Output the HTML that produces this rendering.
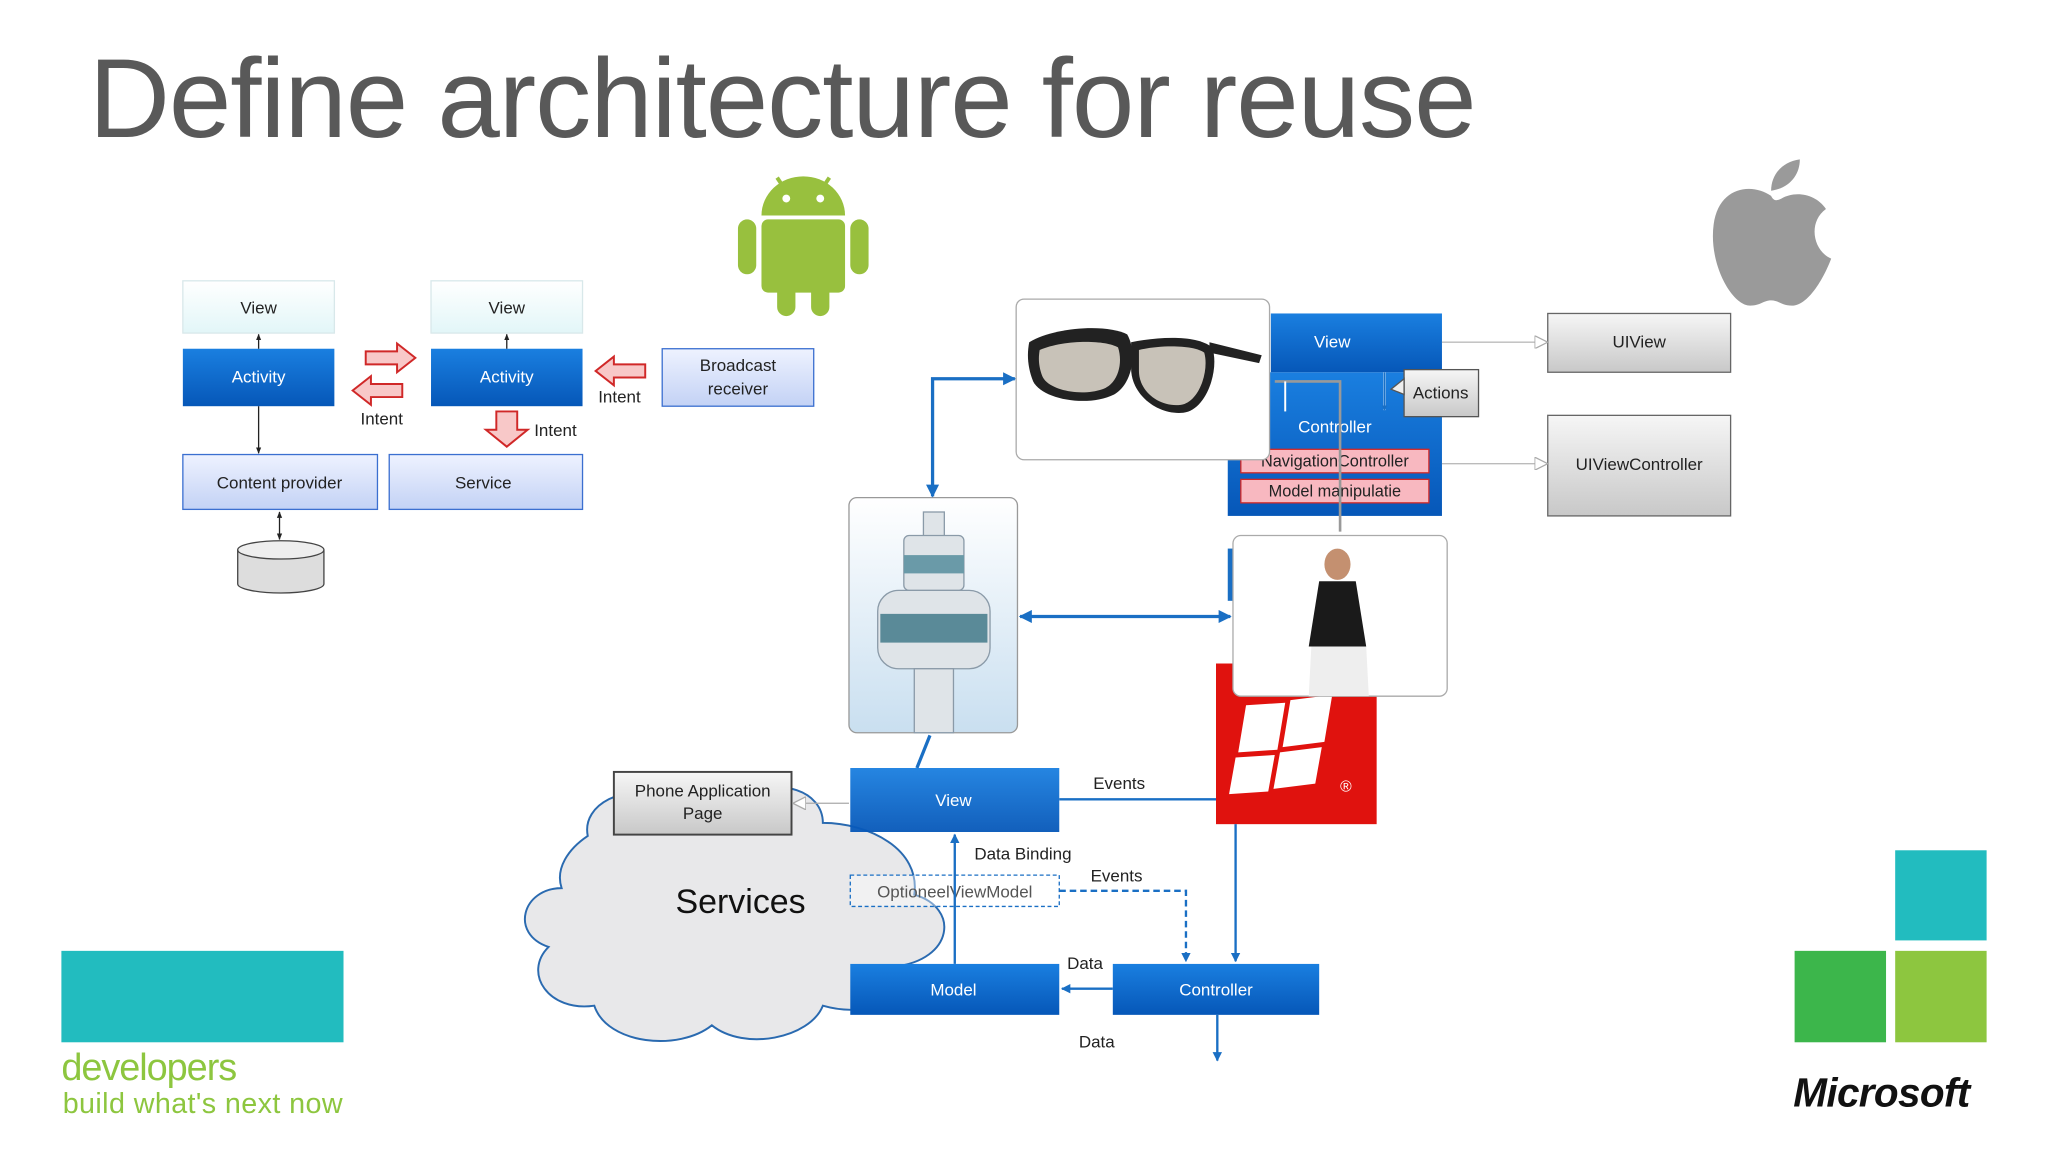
<!DOCTYPE html>
<html><head><meta charset="utf-8"><style>
html,body{margin:0;padding:0;background:#fff;}
svg{display:block;font-family:"Liberation Sans",sans-serif;}
</style></head><body>
<svg width="2048" height="1152" viewBox="0 0 1568 882" xmlns="http://www.w3.org/2000/svg">
<defs>
<linearGradient id="blue" x1="0" y1="0" x2="0" y2="1"><stop offset="0" stop-color="#1a7fe0"/><stop offset="1" stop-color="#0657b8"/></linearGradient>
<linearGradient id="lb" x1="0" y1="0" x2="0" y2="1"><stop offset="0" stop-color="#eef2ff"/><stop offset="1" stop-color="#c3d2f5"/></linearGradient>
<linearGradient id="cy" x1="0" y1="0" x2="0" y2="1"><stop offset="0" stop-color="#ffffff"/><stop offset="1" stop-color="#e2f6f8"/></linearGradient>
<linearGradient id="gr" x1="0" y1="0" x2="0" y2="1"><stop offset="0" stop-color="#f6f6f6"/><stop offset="1" stop-color="#c8c8c8"/></linearGradient>
<linearGradient id="sky" x1="0" y1="0" x2="0" y2="1"><stop offset="0" stop-color="#ffffff"/><stop offset="1" stop-color="#c9dff0"/></linearGradient>
<marker id="ab" viewBox="0 0 10 10" refX="9" refY="5" markerWidth="4" markerHeight="4" orient="auto-start-reverse"><path d="M0,0L10,5L0,10z" fill="#1a6fc4"/></marker>
<marker id="ak" viewBox="0 0 10 10" refX="9" refY="5" markerWidth="5" markerHeight="5" orient="auto-start-reverse"><path d="M0,1L10,5L0,9z" fill="#222"/></marker>
<marker id="ao" viewBox="0 0 10 10" refX="9" refY="5" markerWidth="10" markerHeight="10" markerUnits="userSpaceOnUse" orient="auto"><path d="M0,0L10,5L0,10z" fill="#fff" stroke="#aaa"/></marker>
</defs>

<text x="68" y="105" font-size="86" fill="#595959" letter-spacing="-0.8">Define architecture for reuse</text>

<!-- Android side -->
<g font-size="13" text-anchor="middle">
<rect x="140" y="215" width="116" height="40" fill="url(#cy)" stroke="#d8e8ea"/>
<text x="198" y="240" fill="#222">View</text>
<rect x="330" y="215" width="116" height="40" fill="url(#cy)" stroke="#d8e8ea"/>
<text x="388" y="240" fill="#222">View</text>
<rect x="140" y="267" width="116" height="44" fill="url(#blue)"/>
<text x="198" y="293" fill="#fff">Activity</text>
<rect x="330" y="267" width="116" height="44" fill="url(#blue)"/>
<text x="388" y="293" fill="#fff">Activity</text>
<rect x="507" y="267" width="116" height="44" fill="url(#lb)" stroke="#3b6fd0"/>
<text x="565" y="284" fill="#222">Broadcast</text><text x="565" y="302" fill="#222">receiver</text>
<rect x="140" y="348" width="149" height="42" fill="url(#lb)" stroke="#3b6fd0"/>
<text x="214" y="374" fill="#222">Content provider</text>
<rect x="298" y="348" width="148" height="42" fill="url(#lb)" stroke="#3b6fd0"/>
<text x="370" y="374" fill="#222">Service</text>
</g>
<g stroke="#222" stroke-width="1" fill="none">
<line x1="198" y1="267" x2="198" y2="256" marker-end="url(#ak)"/>
<line x1="388" y1="267" x2="388" y2="256" marker-end="url(#ak)"/>
<line x1="198" y1="311" x2="198" y2="347" marker-end="url(#ak)"/>
<line x1="214" y1="392" x2="214" y2="413" marker-start="url(#ak)" marker-end="url(#ak)"/>
</g>
<path d="M182,421 v26 a33,7 0 0 0 66,0 v-26" fill="#ddd" stroke="#444"/>
<ellipse cx="215" cy="421" rx="33" ry="7" fill="#eee" stroke="#444"/>
<g fill="#f8c8c8" stroke="#d02828" stroke-width="1.5">
<path d="M280,269h24v-6l14,11l-14,11v-6h-24z"/>
<path d="M308,294h-24v-6l-14,11l14,11v-6h24z"/>
<path d="M494,279h-24v-6l-14,11l14,11v-6h24z"/>
<path d="M380,315h16v14h8l-16,13l-16,-13h8z"/>
</g>
<g font-size="13" fill="#222">
<text x="276" y="325">Intent</text><text x="458" y="308">Intent</text><text x="409" y="334">Intent</text>
</g>
<g fill="#98c03e">
<path d="M583,165 a32,30 0 0 1 64,0z"/>
<rect x="583" y="168" width="64" height="56" rx="5"/>
<rect x="565" y="168" width="14" height="42" rx="7"/><rect x="651" y="168" width="14" height="42" rx="7"/>
<rect x="595" y="212" width="14" height="30" rx="7"/><rect x="621" y="212" width="14" height="30" rx="7"/>
<line x1="595" y1="136" x2="603" y2="148" stroke="#98c03e" stroke-width="3"/><line x1="635" y1="136" x2="627" y2="148" stroke="#98c03e" stroke-width="3"/>
</g>
<circle cx="602" cy="152" r="3" fill="#fff"/><circle cx="628" cy="152" r="3" fill="#fff"/>

<g fill="#9a9a9a">
<path d="M1356,150 c-14,-10 -40,-8 -44,22 c-4,30 14,62 28,62 c8,0 10,-4 16,-4 c6,0 8,4 16,4 c12,0 24,-20 30,-36 c-14,-6 -18,-28 -4,-38 c-8,-12 -24,-14 -34,-8 c-4,2 -6,2 -8,-2z"/>
<path d="M1356,146 c0,-12 8,-22 22,-24 c0,12 -8,22 -22,24z"/>
</g>

<rect x="940" y="285" width="164" height="110" fill="url(#blue)"/>
<rect x="973" y="240" width="131" height="45" fill="url(#blue)"/>
<text x="1020" y="266" font-size="13" fill="#fff" text-anchor="middle">View</text>
<text x="1022" y="331" font-size="13" fill="#fff" text-anchor="middle">Controller</text>
<rect x="950" y="344" width="144" height="18" fill="#f8b8c0" stroke="#d02828"/>
<text x="1022" y="357" font-size="12.5" fill="#222" text-anchor="middle">NavigationController</text>
<rect x="950" y="367" width="144" height="18" fill="#f8b8c0" stroke="#d02828"/>
<text x="1022" y="380" font-size="12.5" fill="#222" text-anchor="middle">Model manipulatie</text>
<line x1="1060" y1="285" x2="1060" y2="314" stroke="#fff" stroke-width="1.5"/>
<line x1="1060" y1="285" x2="1060" y2="314" stroke="#1a6fc4" marker-end="url(#ab)"/>
<rect x="1075" y="283" width="57" height="36" fill="url(#gr)" stroke="#555"/>
<path d="M1075,290 l-10,8 l10,4z" fill="#eee" stroke="#555"/>
<text x="1103" y="305" font-size="13" fill="#222" text-anchor="middle">Actions</text>
<rect x="1185" y="240" width="140" height="45" fill="url(#gr)" stroke="#666"/>
<text x="1255" y="266" font-size="13" fill="#222" text-anchor="middle">UIView</text>
<rect x="1185" y="318" width="140" height="77" fill="url(#gr)" stroke="#666"/>
<text x="1255" y="360" font-size="13" fill="#222" text-anchor="middle">UIViewController</text>
<line x1="1104" y1="262" x2="1184" y2="262" stroke="#bbb" marker-end="url(#ao)"/>
<line x1="1104" y1="355" x2="1184" y2="355" stroke="#bbb" marker-end="url(#ao)"/>

<rect x="778" y="229" width="194" height="123" rx="6" fill="#fff" stroke="#aaa"/>
<g fill="#222">
<path d="M788,262 c20,-12 60,-14 75,-6 c8,14 4,38 -10,46 c-20,10 -55,4 -62,-10 c-4,-10 -5,-20 -3,-30z"/>
<path d="M866,262 c20,-4 50,-6 62,4 c6,16 -4,48 -22,50 c-20,2 -40,-14 -40,-34z"/>
<path d="M926,262 l40,10 l-2,6 l-38,-8z"/>
</g>
<path d="M796,268 c18,-8 50,-8 60,-2 c4,12 0,28 -12,32 c-18,6 -42,0 -46,-10 c-3,-8 -3,-14 -2,-20z" fill="#c8c2b8"/>
<path d="M872,268 c16,-4 42,-4 50,2 c4,14 -4,38 -18,40 c-16,2 -32,-10 -32,-26z" fill="#c8c2b8"/>
<path d="M976,292 h50 v115" stroke="#999" stroke-width="2" fill="none"/>
<line x1="984" y1="292" x2="984" y2="315" stroke="#fff" stroke-width="1.5"/>

<rect x="650" y="381" width="129" height="180" rx="6" fill="url(#sky)" stroke="#999"/>
<g fill="#dfe4e8" stroke="#8a9aa8" stroke-width="1">
<rect x="707" y="392" width="16" height="20"/>
<rect x="692" y="410" width="46" height="42" rx="4"/>
<rect x="672" y="452" width="86" height="60" rx="16"/>
<rect x="700" y="512" width="30" height="49"/>
</g>
<rect x="692" y="425" width="46" height="14" fill="#6a9aa8"/>
<rect x="674" y="470" width="82" height="22" fill="#5a8a98"/>

<rect x="940" y="420" width="4" height="40" fill="#1a6fc4"/>
<rect x="931" y="508" width="123" height="123" fill="#e0120e"/>
<path d="M954,540 l30,-2 l-6,36 l-30,2z M988,536 l32,-4 l-6,36 l-32,4z M946,580 l30,-2 l-5,28 l-30,2z M980,576 l32,-4 l-5,28 l-32,4z" fill="#fff"/>
<text x="1026" y="606" font-size="12" fill="#fff">®</text>
<rect x="944" y="410" width="164" height="123" rx="6" fill="#fff" stroke="#aaa"/>
<ellipse cx="1024" cy="432" rx="10" ry="12" fill="#c49070"/>
<path d="M1010,445 h28 l8,50 h-44z" fill="#1a1a1a"/>
<path d="M1004,495 h42 l2,38 h-46z" fill="#eee"/>

<g stroke="#1a6fc4" stroke-width="2.5" fill="none">
<path d="M777,290 h-63 v90" marker-start="url(#ab)" marker-end="url(#ab)"/>
<line x1="781" y1="472" x2="942" y2="472" marker-start="url(#ab)" marker-end="url(#ab)"/>
<line x1="712" y1="563" x2="702" y2="588"/>
</g>

<path d="M450,640 c-5,-25 30,-40 55,-30 c15,-20 55,-20 70,0 c20,-15 55,-5 55,20 c35,0 75,20 70,55 c35,10 30,50 -15,55 c10,25 -20,40 -55,30 c-10,25 -60,35 -85,15 c-25,20 -80,15 -90,-15 c-35,5 -55,-25 -35,-45 c-30,-10 -20,-45 10,-45 c-5,-15 5,-30 20,-40z" fill="#e8e8ea" stroke="#2a6ab0" stroke-width="1.5"/>
<text x="567" y="699" font-size="26" fill="#111" text-anchor="middle">Services</text>

<rect x="470" y="591" width="136" height="48" fill="url(#gr)" stroke="#444" stroke-width="1.5"/>
<text x="538" y="610" font-size="13" fill="#222" text-anchor="middle">Phone Application</text>
<text x="538" y="627" font-size="13" fill="#222" text-anchor="middle">Page</text>
<line x1="650" y1="615" x2="608" y2="615" stroke="#aaa" marker-end="url(#ao)"/>
<rect x="651" y="588" width="160" height="49" fill="url(#blue)" opacity="0.95"/>
<text x="730" y="617" font-size="13" fill="#fff" text-anchor="middle">View</text>
<rect x="651" y="670" width="160" height="24" fill="#fff" fill-opacity="0.4" stroke="#1a6fc4" stroke-dasharray="3,2"/>
<text x="731" y="687" font-size="13" fill="#555" text-anchor="middle">OptioneelViewModel</text>
<rect x="651" y="738" width="160" height="39" fill="url(#blue)"/>
<text x="730" y="762" font-size="13" fill="#fff" text-anchor="middle">Model</text>
<rect x="852" y="738" width="158" height="39" fill="url(#blue)"/>
<text x="931" y="762" font-size="13" fill="#fff" text-anchor="middle">Controller</text>
<g stroke="#1a6fc4" stroke-width="1.8" fill="none">
<line x1="731" y1="738" x2="731" y2="639" marker-end="url(#ab)"/>
<line x1="811" y1="612" x2="931" y2="612"/>
<line x1="946" y1="631" x2="946" y2="736" marker-end="url(#ab)"/>
<path d="M811,682 h97 v54" stroke-dasharray="5,3" marker-end="url(#ab)"/>
<line x1="852" y1="757" x2="813" y2="757" marker-end="url(#ab)"/>
<line x1="932" y1="777" x2="932" y2="812" marker-end="url(#ab)"/>
</g>
<g font-size="13" fill="#222">
<text x="837" y="604">Events</text><text x="746" y="658">Data Binding</text>
<text x="835" y="675">Events</text><text x="817" y="742">Data</text><text x="826" y="802">Data</text>
</g>

<rect x="47" y="728" width="216" height="70" fill="#22bcbf"/>
<text x="47" y="827" font-size="29" fill="#8dc63f" letter-spacing="-0.8">developers</text>
<text x="48" y="852" font-size="22" fill="#8dc63f" letter-spacing="0.3">build what's next now</text>

<rect x="1451" y="651" width="70" height="69" fill="#22bcbf"/>
<rect x="1374" y="728" width="70" height="70" fill="#3cb64b"/>
<rect x="1451" y="728" width="70" height="70" fill="#8dc63f"/>
<text x="1373" y="847" font-size="31" font-weight="bold" font-style="italic" fill="#111" letter-spacing="-0.5">Microsoft</text>
</svg>
</body></html>
